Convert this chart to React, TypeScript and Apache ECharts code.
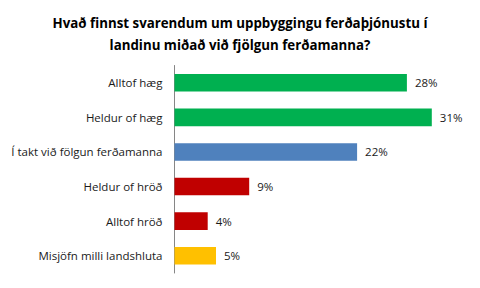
import React, { useEffect, useRef } from "react";
import * as echarts from "echarts";

const categories = [
  "Alltof hæg",
  "Heldur of hæg",
  "Í takt við fölgun ferðamanna",
  "Heldur of hröð",
  "Alltof hröð",
  "Misjöfn milli landshluta",
];
const values = [28, 31, 22, 9, 4, 5];
const colors = ["#00B050", "#00B050", "#4F81BD", "#C00000", "#C00000", "#FFC000"];
const titleText = "Hvað finnst svarendum um uppbyggingu ferðaþjónustu í\nlandinu miðað við fjölgun ferðamanna?";

export default function App() {
  const ref = useRef<HTMLDivElement>(null);
  useEffect(() => {
    if (!ref.current) return;
    const chart = echarts.init(ref.current, null, { renderer: "svg" });
    chart.setOption({
      animation: false,
      backgroundColor: "#fff",
      title: {
        text: titleText,
        left: "center",
        top: 7,
        textStyle: {
          fontFamily: "Open Sans",
          fontWeight: "bold",
          fontSize: 13.3,
          lineHeight: 22,
          color: "#000",
        },
      },
      grid: { left: 174.5, right: 15, top: 65.5, bottom: 15 },
      xAxis: {
        type: "value",
        min: 0,
        max: 35,
        show: false,
      },
      yAxis: {
        type: "category",
        inverse: true,
        data: categories,
        axisLine: { show: true, lineStyle: { color: "#868686", width: 1 } },
        axisTick: { show: false },
        axisLabel: {
          margin: 12,
          fontFamily: "Open Sans",
          fontSize: 11.5,
          color: "#1a1a1a",
        },
      },
      series: [
        {
          type: "bar",
          data: values.map((v, i) => ({ value: v, itemStyle: { color: colors[i] } })),
          barCategoryGap: "49%",
          label: {
            show: true,
            position: "right",
            distance: 8,
            formatter: "{c}%",
            fontFamily: "Open Sans",
            fontSize: 11.5,
            color: "#1a1a1a",
          },
        },
      ],
    });
    return () => chart.dispose();
  }, []);
  return (
    <div
      ref={ref}
      style={{ position: "absolute", left: 0, top: 0, width: 480, height: 288 }}
    />
  );
}
